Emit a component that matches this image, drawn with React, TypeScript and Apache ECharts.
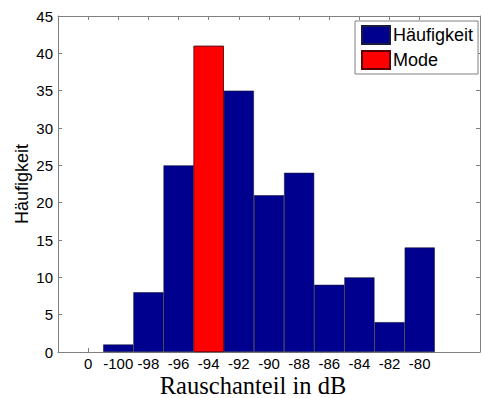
import React, { useEffect, useRef } from "react";
import * as echarts from "echarts";

const categories = ["", "0", "-100", "-98", "-96", "-94", "-92", "-90", "-88", "-86", "-84", "-82", "-80", "", ""];
const counts = [0, 0, 1, 8, 25, 41, 35, 21, 24, 9, 10, 4, 14, 0, 0];
const modeCategory = "-94";
const yTicks = { min: 0, max: 45, interval: 5 };

export default function App() {
  const ref = useRef<HTMLDivElement>(null);
  useEffect(() => {
    const chart = echarts.init(ref.current!, null, { renderer: "svg" });
    const haeuf = counts.map((v) => (v === 0 ? "-" : v));
    const mode = categories.map((c, i) => (c === modeCategory ? counts[i] : "-"));
    const axisColor = "#808080";
    const showTick = (i: number) => categories[i] !== "";
    chart.setOption({
      animation: false,
      backgroundColor: "#fff",
      textStyle: { fontFamily: "Liberation Sans, Arial, sans-serif" },
      grid: { left: 58, right: 1, top: 16, bottom: 46 },
      legend: {
        orient: "vertical",
        left: 355,
        top: 21,
        padding: [4, 5, 4, 6],
        itemGap: 5,
        itemWidth: 28,
        itemHeight: 18,
        backgroundColor: "#fff",
        borderColor: "#808080",
        borderWidth: 1,
        borderRadius: 0,
        textStyle: { fontSize: 18, color: "#000", fontFamily: "Liberation Sans, Arial, sans-serif", padding: [0, 0, 0, -2] },
        data: [
          { name: "Häufigkeit", icon: "rect" },
          { name: "Mode", icon: "rect" },
        ],
      },
      xAxis: [
        {
          type: "category",
          data: categories,
          boundaryGap: false,
          axisLine: { show: true, lineStyle: { color: axisColor, width: 1 } },
          axisTick: { show: true, inside: true, length: 4, interval: showTick, lineStyle: { color: axisColor } },
          axisLabel: { interval: 0, color: "#000", fontSize: 15, margin: 4, fontFamily: "Liberation Sans, Arial, sans-serif" },
          splitLine: { show: false },
        },
        {
          type: "category",
          data: categories,
          position: "top",
          boundaryGap: false,
          axisLine: { show: true, onZero: false, lineStyle: { color: axisColor, width: 1 } },
          axisTick: { show: true, inside: true, length: 4, interval: showTick, lineStyle: { color: axisColor } },
          axisLabel: { show: false },
          splitLine: { show: false },
        },
      ],
      yAxis: [
        {
          type: "value",
          min: yTicks.min,
          max: yTicks.max,
          interval: yTicks.interval,
          axisLine: { show: true, lineStyle: { color: axisColor, width: 1 } },
          axisTick: { show: true, inside: true, length: 4, lineStyle: { color: axisColor } },
          axisLabel: { color: "#000", fontSize: 15, margin: 5, fontFamily: "Liberation Sans, Arial, sans-serif" },
          splitLine: { show: false },
        },
        {
          type: "value",
          position: "right",
          min: yTicks.min,
          max: yTicks.max,
          interval: yTicks.interval,
          axisLine: { show: true, lineStyle: { color: axisColor, width: 1 } },
          axisTick: { show: true, inside: true, length: 4, lineStyle: { color: axisColor } },
          axisLabel: { show: false },
          splitLine: { show: false },
        },
      ],
      series: [
        {
          name: "Häufigkeit",
          type: "bar",
          data: haeuf,
          barCategoryGap: "0%",
          barGap: "-100%",
          itemStyle: { color: "#00008F", borderColor: "#1a1a3a", borderWidth: 0.6 },
        },
        {
          name: "Mode",
          type: "bar",
          data: mode,
          barCategoryGap: "0%",
          barGap: "-100%",
          itemStyle: { color: "#FF0000", borderColor: "#5a0000", borderWidth: 0.6 },
        },
      ],
      graphic: [
        {
          type: "text",
          x: 22,
          y: 184,
          rotation: Math.PI / 2,
          style: {
            text: "Häufigkeit",
            fontSize: 18,
            fontFamily: "Liberation Sans, Arial, sans-serif",
            fill: "#000",
            textAlign: "center",
            textVerticalAlign: "middle",
          },
        },
        {
          type: "text",
          x: 253,
          y: 385,
          style: {
            text: "Rauschanteil in dB",
            fontSize: 24.5,
            fontFamily: "Liberation Serif, Times New Roman, serif",
            fill: "#000",
            textAlign: "center",
            textVerticalAlign: "middle",
          },
        },
      ],
    });
    return () => chart.dispose();
  }, []);
  return <div ref={ref} style={{ width: 483, height: 398, position: "absolute", left: 0, top: 0 }} />;
}
